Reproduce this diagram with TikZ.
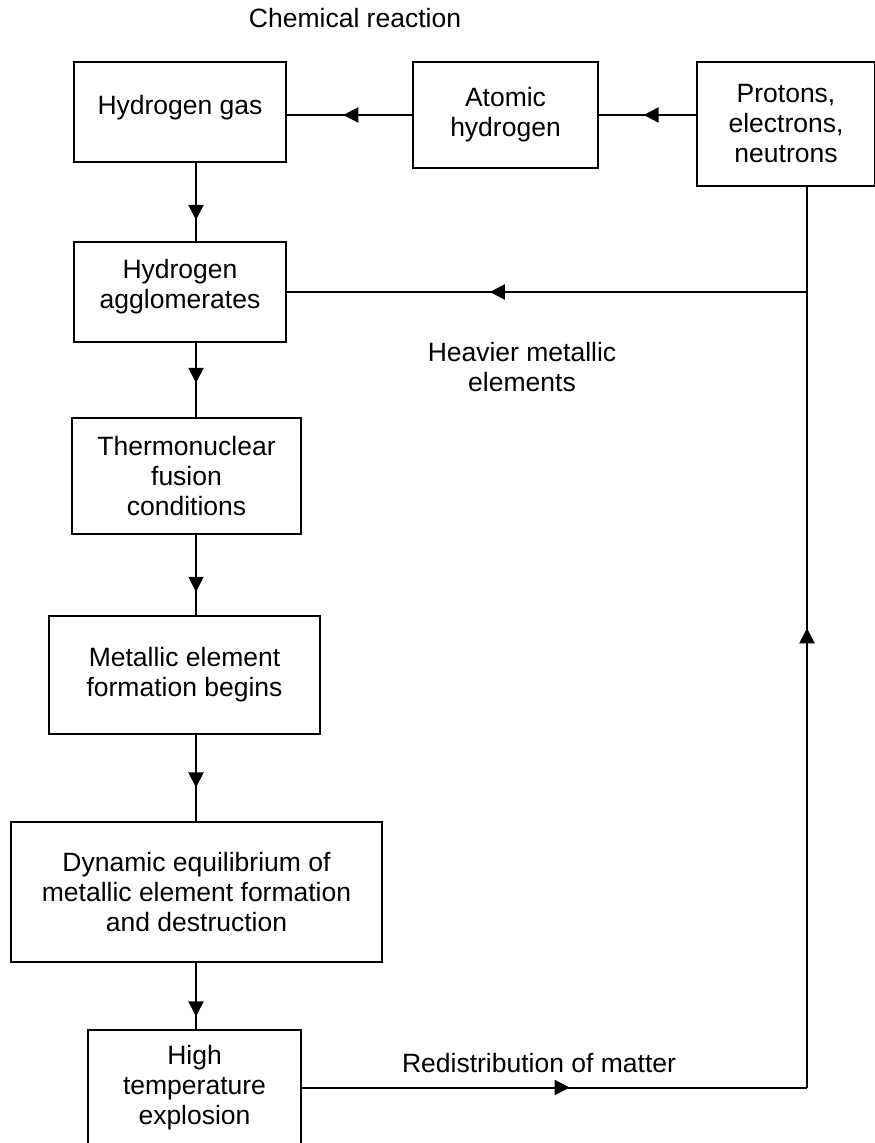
\documentclass[tikz,border=0pt]{standalone}
\usepackage{fontspec}
\setmainfont{Liberation Sans}
\usetikzlibrary{arrows.meta,decorations.markings}
\tikzset{
  box/.style={draw, line width=1pt, align=center, inner sep=2pt},
  link/.style={line width=1pt},
  midarrow/.style={postaction={decorate}, decoration={markings,
      mark=at position #1 with {\arrow{Triangle[length=7.5pt,width=7.5pt]}}}},
  tag/.style={align=center}
}
\begin{document}
\begin{tikzpicture}[x=0.5pt, y=-0.5pt, font=\fontsize{13.25}{15}\selectfont]
  \useasboundingbox (0,0) rectangle (874,1143);
  % boxes
  \node[box, minimum width=106pt, minimum height=50pt, text depth=6.8pt] (hgas) at (180,112) {Hydrogen gas};
  \node[box, minimum width=92.5pt, minimum height=53pt] (atom) at (505.5,115) {Atomic\\hydrogen};
  \node[box, minimum width=89pt, minimum height=62pt] (prot) at (786,124) {Protons,\\electrons,\\neutrons};
  \node[box, minimum width=106pt, minimum height=50pt, text depth=7.6pt] (aggl) at (180,292) {Hydrogen\\agglomerates};
  \node[box, minimum width=114.5pt, minimum height=58pt] (therm) at (186.5,476) {Thermonuclear\\fusion\\conditions};
  \node[box, minimum width=135.5pt, minimum height=59pt] (metal) at (184.5,675) {Metallic element\\formation begins};
  \node[box, minimum width=185.5pt, minimum height=70pt] (dyn) at (196.5,892) {Dynamic equilibrium of\\metallic element formation\\and destruction};
  \node[box, minimum width=106.5pt, minimum height=57.5pt] (high) at (194.5,1087.5) {High\\temperature\\explosion};
  % labels
  \node[tag] (chem) at (355,18) {Chemical reaction};
  \node[tag] (heavy) at (522,367) {Heavier metallic\\elements};
  \node[tag] (redis) at (539,1063) {Redistribution of matter};
  % columns for the lines
  \coordinate (col) at (196,0);
  \coordinate (rx) at (807,0);
  % top row
  \draw[link, midarrow=0.55] (atom.west) -- (hgas.east |- atom.west);
  \draw[link, midarrow=0.54] (prot.west |- atom.east) -- (atom.east);
  % main column
  \draw[link, midarrow=0.73] (hgas.south -| col) -- (aggl.north -| col);
  \draw[link, midarrow=0.54] (aggl.south -| col) -- (therm.north -| col);
  \draw[link, midarrow=0.71] (therm.south -| col) -- (metal.north -| col);
  \draw[link, midarrow=0.61] (metal.south -| col) -- (dyn.north -| col);
  \draw[link, midarrow=0.81] (dyn.south -| col) -- (high.north -| col);
  % loop back on the right
  \draw[link, midarrow=0.53] (high.east) -- (high.east -| rx) coordinate (rb);
  \draw[link, midarrow=0.51] (rb) -- (prot.south -| rx);
  \draw[link, midarrow=0.61] (aggl.east -| rx) -- (aggl.east);
\end{tikzpicture}
\end{document}
